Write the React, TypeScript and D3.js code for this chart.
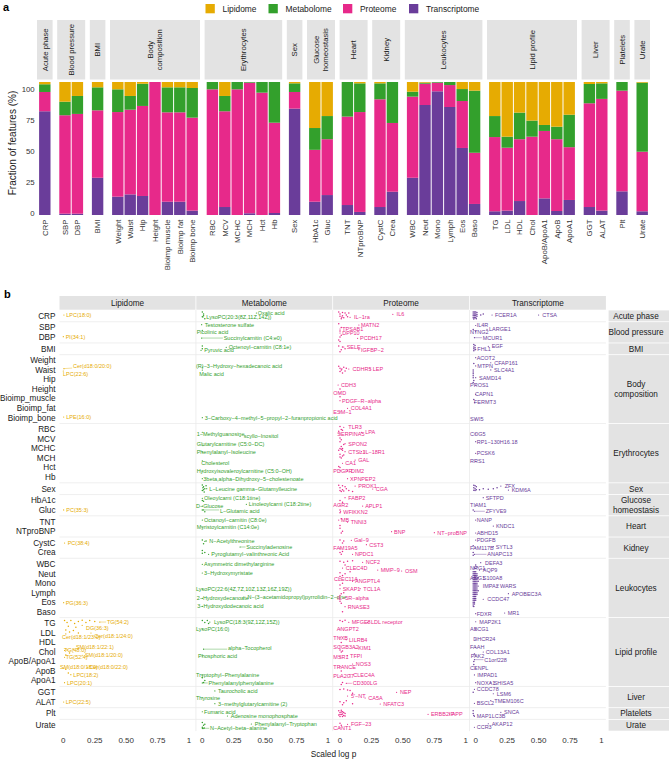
import React from "react";
import * as d3 from "d3";

const FONT = "'Liberation Sans', Arial, Helvetica, sans-serif";

// ---------- shared categories ----------
const omics = ["Lipidome", "Metabolome", "Proteome", "Transcriptome"];
const omicColors = ["#E6AB02", "#33A02C", "#E7298A", "#6A3D9A"];

const groupNames = [
  "Acute phase", "Blood pressure", "BMI", "Body\ncomposition", "Erythrocytes", "Sex",
  "Glucose\nhomeostasis", "Heart", "Kidney", "Leukocytes", "Lipid profile", "Liver", "Platelets", "Urate",
];
const groupTraits = [
  ["CRP"], ["SBP", "DBP"], ["BMI"],
  ["Weight", "Waist", "Hip", "Height", "Bioimp_muscle", "Bioimp_fat", "Bioimp_bone"],
  ["RBC", "MCV", "MCHC", "MCH", "Hct", "Hb"], ["Sex"], ["HbA1c", "Gluc"], ["TNT", "NTproBNP"],
  ["CystC", "Crea"], ["WBC", "Neut", "Mono", "Lymph", "Eos", "Baso"],
  ["TG", "LDL", "HDL", "Chol", "ApoB/ApoA1", "ApoB", "ApoA1"], ["GGT", "ALAT"], ["Plt"], ["Urate"],
];

// ---------- panel a: fraction of features (%) per trait ----------
const transcriptomeShare = [78, 1, 1, 28, 13.8, 15.5, 14.3, 0, 10, 10, 3.3, 0, 6, 0, 1.3, 0, 1.5, 80, 10, 15, 7.5, 2.3, 6, 17.5, 28, 82.7, 93, 81.2, 50.4, 8.3, 2.8, 3.3, 10.5, 0, 12.5, 3, 11.3, 6, 3.3, 17.8, 2.8];
const proteomeShare = [14.5, 74, 75, 50.7, 63.6, 63.7, 67.7, 100, 67.2, 67.2, 69.9, 94.5, 72, 94.5, 98.2, 92, 67.9, 12.5, 39, 42, 66.5, 75.1, 81, 51.7, 61, 16, 6.5, 16.5, 35.3, 38.5, 55.8, 47.3, 46.5, 58.9, 50.7, 54, 39.7, 78, 84, 75.7, 44.8];
const metabolomeShare = [5.8, 10.2, 13.5, 17.3, 17.1, 10.3, 16.7, 0, 18.8, 18.8, 22.3, 5.5, 11.5, 5.5, 0.5, 8, 30.6, 6.5, 16.4, 17.4, 26, 21.6, 12, 30.8, 3.7, 0.8, 0.5, 2.3, 9, 46.7, 15.8, 8.3, 20, 12.1, 4.5, 9.4, 24.4, 14.5, 11.7, 6.5, 51.9];
const lipidomeShare = [1.7, 14.8, 10.5, 4, 5.5, 10.5, 1.3, 0, 4, 4, 4.5, 0, 10.5, 0, 0, 0, 0, 1, 34.6, 25.6, 0, 1, 1, 0, 7.3, 0.5, 0, 0, 5.3, 6.5, 25.6, 41.1, 23, 29, 32.3, 33.6, 24.6, 1.5, 1, 0, 0.5];
const yTicksA = [0, 25, 50, 75, 100];

// ---------- panel b: labelled features [trait, name, pointValue, pointDy, labelValue, labelDy] ----------
type Lab = [string, string, number, number, number, number];
type Pt = [string, number, number];

const lipidomeLabels: Lab[] = [
  ["CRP", "LPC(18:0)", 0.005, -0.09, 0.024, -0.09],
  ["DBP", "PI(34:1)", 0.0, -0.04, 0.019, -0.04],
  ["Waist", "Cer(d18:0/20:0)", 0.005, -0.15, 0.077, -0.43],
  ["Waist", "LPC(22:6)", 0.0, 0.1, -0.002, 0.38],
  ["Bioimp_bone", "LPE(16:0)", 0.003, -0.07, 0.024, -0.07],
  ["Gluc", "PC(35:3)", 0.003, 0.0, 0.024, 0.0],
  ["CystC", "PC(38:4)", 0.01, 0.01, 0.035, 0.01],
  ["Eos", "PG(36:3)", 0.003, 0.05, 0.019, 0.05],
  ["TG", "TG(54:2)", 0.29, -0.15, 0.347, -0.15],
  ["TG", "DG(36:3)", 0.15, 0.2, 0.18, 0.5],
  ["LDL", "Cer(d18:1/23:0)", 0.02, 0.1, -0.01, 0.45],
  ["LDL", "Cer(d18:1/24:0)", 0.22, 0.0, 0.246, 0.32],
  ["Chol", "SM(d18:1/22:1)", 0.08, -0.3, 0.1, -0.5],
  ["Chol", "TG(48:0)", 0.01, -0.16, 0.006, -0.16],
  ["Chol", "SM(d18:1/20:0)", 0.15, 0.34, 0.172, 0.34],
  ["Chol", "TG(52:4)", 0.01, 0.55, 0.019, 0.55],
  ["ApoB", "SM(d18:0/18:0)", 0.0, -0.3, -0.026, -0.46],
  ["ApoB", "Cer(d18:0/22:0)", 0.19, -0.39, 0.207, -0.39],
  ["ApoB", "LPC(18:2)", 0.06, 0.38, 0.08, 0.38],
  ["ApoA1", "LPC(20:1)", 0.01, 0.22, 0.03, 0.22],
  ["ALAT", "LPC(22:5)", 0.003, 0.02, 0.019, 0.02],
];
const metabolomeLabels: Lab[] = [
  ["CRP", "Oxalic acid", 0.43, -0.3, 0.44, -0.33],
  ["CRP", "LysoPC(20:3(8Z,11Z,14Z))", 0.005, 0.12, 0.032, 0.12],
  ["SBP", "Testosterone sulfate", -0.005, -0.3, 0.02, -0.3],
  ["SBP", "Picolinic acid", 0.0, 0.3, -0.045, 0.5],
  ["DBP", "Succinylcarnitin (C4:e0)", -0.005, 0.1, 0.17, 0.1],
  ["BMI", "Pyruvic acid", -0.01, 0.16, 0.015, 0.16],
  ["BMI", "Octenoyl−carnitin (C8:1e)", 0.19, -0.16, 0.21, -0.16],
  ["Waist", "(R)−3−Hydroxy−hexadecanoic acid", 0.0, -0.3, -0.05, -0.43],
  ["Waist", "Malic acid", 0.0, 0.0, -0.024, 0.38],
  ["Bioimp_bone", "3−Carboxy−4−methyl−5−propyl−2−furanpropionic acid", 0.0, 0.0, 0.02, 0.0],
  ["RBC", "1−Methylguanosine", 0.0, 0.3, -0.045, 0.48],
  ["MCV", "scyllo−Inositol", 0.3, -0.27, 0.33, -0.27],
  ["MCHC", "Glutarylcarnitine (C5:0−DC)", 0.005, -0.3, -0.045, -0.46],
  ["MCHC", "Phenylalanyl−Isoleucine", 0.0, 0.38, -0.045, 0.38],
  ["MCH", "Cholesterol", 0.0, 0.3, -0.008, 0.5],
  ["Hct", "Hydroxyisovaleroylcarnitine (C5:0−OH)", 0.0, 0.37, -0.045, 0.37],
  ["Hb", "3beta,alpha−Dihydroxy−5−cholestenoate", 0.0, 0.18, 0.008, 0.18],
  ["Sex", "L−Leucine gamma−Glutamylleucine", 0.035, 0.0, 0.056, 0.0],
  ["HbA1c", "Oleoylcarni (C18:1tine)", 0.0, -0.22, 0.014, -0.22],
  ["HbA1c", "Linoleoylcarni (C18:2tine)", 0.35, 0.41, 0.37, 0.41],
  ["Gluc", "D−Glucose", 0.0, -0.41, -0.05, -0.41],
  ["Gluc", "L−Glutamic acid", 0.01, 0.0, 0.14, 0.14],
  ["TNT", "Octanoyl−carnitin (C8:0e)", 0.0, -0.17, 0.014, -0.17],
  ["NTproBNP", "Myristoylcarnitin (C14:0e)", 0.0, -0.44, -0.045, -0.44],
  ["CystC", "N−Acetylthreonine", 0.02, -0.17, 0.056, -0.17],
  ["CystC", "Succinyladenosine", 0.3, 0.43, 0.35, 0.43],
  ["Crea", "Pyroglutamyl−valinthreonic Acid", 0.05, 0.2, 0.072, 0.2],
  ["WBC", "Asymmetric dimethylarginine", 0.0, 0.02, 0.014, 0.02],
  ["Neut", "3−Hydroxymyristate", 0.0, -0.07, 0.014, -0.07],
  ["Lymph", "LysoPC(22:6(4Z,7Z,10Z,13Z,16Z,19Z))", 0.0, -0.39, -0.05, -0.39],
  ["Eos", "2−Hydroxydecanoate", 0.0, -0.41, -0.045, -0.41],
  ["Lymph", "N−(3−acetamidopropyl)pyrrolidin−2−one", 0.33, 0.45, 0.36, 0.45],
  ["Eos", "3−Hydroxydodecanoic acid", 0.0, 0.43, -0.04, 0.43],
  ["TG", "LysoPC(18:3(9Z,12Z,15Z))", 0.06, -0.15, 0.093, -0.15],
  ["TG", "LysoPC(16:0)", 0.0, 0.58, -0.05, 0.58],
  ["Chol", "alpha−Tocopherol", 0.01, -0.3, 0.204, -0.42],
  ["Chol", "Phosphoric acid", 0.0, 0.42, -0.034, 0.42],
  ["ApoB", "Tryptophyl−Phenylalanine", 0.0, 0.41, -0.05, 0.41],
  ["ApoA1", "Phenylalanylphenylalanine", 0.0, 0.25, 0.05, 0.25],
  ["GGT", "Taurocholic acid", 0.1, -0.14, 0.125, -0.14],
  ["ALAT", "Thyrosine", 0.0, -0.43, -0.05, -0.43],
  ["ALAT", "3−methylglutarylcarnitine (2)", 0.1, 0.2, 0.125, 0.2],
  ["Plt", "Fumaric acid", 0.0, -0.19, 0.014, -0.19],
  ["Plt", "Adenosine monophosphate", 0.2, 0.26, 0.226, 0.26],
  ["Urate", "Phenylalanyl−Tryptophan", 0.39, -0.13, 0.417, -0.13],
  ["Urate", "N−Acetyl−beta−alanine", 0.0, 0.32, 0.061, 0.32],
];
const proteomeLabels: Lab[] = [
  ["CRP", "IL−1ra", 0.08, 0.15, 0.111, 0.15],
  ["CRP", "IL6", 0.42, -0.16, 0.45, -0.16],
  ["SBP", "TPSAB1", 0.0, 0.15, 0.018, 0.15],
  ["SBP", "MATN2", 0.15, -0.27, 0.167, -0.27],
  ["DBP", "DPP10", 0.0, -0.43, 0.018, -0.43],
  ["DBP", "PCDH17", 0.14, 0.13, 0.159, 0.13],
  ["BMI", "SELE", 0.03, -0.19, 0.053, -0.19],
  ["BMI", "IGFBP−2", 0.15, 0.09, 0.167, 0.09],
  ["Waist", "CDHR5", 0.07, -0.11, 0.1, -0.11],
  ["Waist", "LEP", 0.24, -0.11, 0.26, -0.11],
  ["Height", "CDH3", -0.015, -0.43, 0.008, -0.43],
  ["Height", "OMD", 0.0, 0.41, -0.053, 0.41],
  ["Bioimp_muscle", "PDGF−R−alpha", 0.0, 0.22, 0.016, 0.22],
  ["Bioimp_fat", "ESM−1", 0.0, 0.37, -0.053, 0.37],
  ["Bioimp_fat", "COL4A1", 0.06, 0.02, 0.085, 0.02],
  ["RBC", "TLR3", 0.03, -0.22, 0.066, -0.22],
  ["RBC", "SERPINA5", 0.0, 0.45, -0.021, 0.45],
  ["RBC", "LPA", 0.17, 0.31, 0.2, 0.31],
  ["MCHC", "SPON2", 0.04, -0.5, 0.066, -0.5],
  ["MCHC", "CTSL1", 0.04, 0.34, 0.066, 0.34],
  ["MCHC", "IL−18R1", 0.17, 0.34, 0.19, 0.34],
  ["MCH", "GAL", 0.12, 0.22, 0.145, 0.22],
  ["Hct", "CA1", 0.02, -0.44, 0.042, -0.44],
  ["Hct", "PDGFR", 0.0, 0.34, -0.053, 0.34],
  ["Hct", "DIM2", 0.06, 0.34, 0.087, 0.34],
  ["Hb", "XPNPEP2", 0.06, 0.18, 0.08, 0.18],
  ["Sex", "PROK1", 0.12, -0.28, 0.145, -0.28],
  ["Sex", "CGA", 0.26, 0.03, 0.284, 0.03],
  ["HbA1c", "FABP2", 0.04, -0.29, 0.066, -0.29],
  ["HbA1c", "AGR2", 0.0, 0.48, -0.053, 0.48],
  ["Gluc", "APLP1", 0.18, -0.41, 0.2, -0.41],
  ["Gluc", "WFIKKN2", 0.005, 0.18, 0.026, 0.18],
  ["TNT", "MB", -0.01, -0.17, 0.008, -0.17],
  ["TNT", "TNNI3", 0.06, 0.04, 0.085, 0.04],
  ["NTproBNP", "BNP", 0.41, 0.05, 0.43, 0.05],
  ["NTproBNP", "NT−proBNP", 0.75, 0.16, 0.773, 0.16],
  ["CystC", "Gal−9", 0.09, -0.27, 0.111, -0.27],
  ["CystC", "CST3", 0.21, 0.19, 0.233, 0.19],
  ["Crea", "FAM19A5", 0.0, -0.46, -0.053, -0.46],
  ["Crea", "NPDC1", 0.1, 0.2, 0.119, 0.2],
  ["WBC", "NCF2", 0.18, -0.19, 0.204, -0.19],
  ["WBC", "CLEC4D", 0.02, 0.41, 0.045, 0.41],
  ["Neut", "MMP−9", 0.3, -0.38, 0.324, -0.38],
  ["Neut", "OSM", 0.49, -0.28, 0.517, -0.28],
  ["Mono", "CLEC11A", 0.0, -0.47, -0.048, -0.47],
  ["Mono", "ANGPTL4", 0.1, -0.2, 0.119, -0.2],
  ["Lymph", "SKAP1", 0.0, -0.42, 0.021, -0.42],
  ["Lymph", "TCL1A", 0.16, -0.42, 0.185, -0.42],
  ["Eos", "IL−5R−alpha", 0.0, -0.44, -0.021, -0.44],
  ["Eos", "RNASE3", 0.04, 0.47, 0.061, 0.47],
  ["TG", "MFGE8", 0.07, -0.12, 0.093, -0.12],
  ["TG", "LDL receptor", 0.22, -0.12, 0.246, -0.12],
  ["LDL", "ANGPT2", 0.0, -0.42, -0.026, -0.42],
  ["LDL", "TNXB", 0.0, 0.49, -0.053, 0.49],
  ["HDL", "LILRB4", 0.05, -0.29, 0.072, -0.29],
  ["HDL", "SCGB3A2", 0.0, 0.47, -0.053, 0.47],
  ["Chol", "KIM1", 0.12, -0.39, 0.145, -0.39],
  ["Chol", "MSR1", 0.0, 0.49, -0.053, 0.49],
  ["Chol", "TFPI", 0.06, 0.38, 0.08, 0.38],
  ["ApoB", "TRANCE", 0.0, -0.46, -0.053, -0.46],
  ["ApoB/ApoA1", "NOS3", 0.1, 0.26, 0.125, 0.26],
  ["ApoB", "PLA2G7", 0.0, 0.52, -0.053, 0.52],
  ["ApoB", "CLEC4A", 0.08, 0.41, 0.106, 0.41],
  ["ApoA1", "CD300LG", 0.05, 0.29, 0.101, 0.29],
  ["GGT", "NEP", 0.45, 0.0, 0.477, 0.0],
  ["GGT", "5'−NT", 0.06, 0.39, 0.087, 0.39],
  ["ALAT", "CA5A", 0.2, -0.4, 0.225, -0.4],
  ["ALAT", "NFATC3", 0.32, 0.23, 0.344, 0.23],
  ["Plt", "ERBB2IP", 0.7, 0.08, 0.723, 0.08],
  ["Plt", "APP", 0.87, 0.05, 0.888, 0.05],
  ["Urate", "CANT1", 0.0, 0.26, -0.053, 0.26],
  ["Urate", "FGF−23", 0.06, -0.1, 0.087, -0.1],
];
const transcriptomeLabels: Lab[] = [
  ["CRP", "FCER1A", 0.13, -0.09, 0.153, -0.09],
  ["CRP", "CTSA", 0.5, -0.09, 0.53, -0.09],
  ["SBP", "IL4R", 0.0, -0.22, 0.008, -0.22],
  ["SBP", "NTNG2", 0.0, 0.43, -0.045, 0.43],
  ["SBP", "LARGE1", 0.09, 0.18, 0.106, 0.18],
  ["DBP", "MCUR1", -0.01, 0.06, 0.056, 0.06],
  ["BMI", "FHL1", 0.0, 0.05, 0.013, 0.05],
  ["BMI", "EGF", 0.1, -0.26, 0.127, -0.26],
  ["Weight", "ACOT2", 0.0, -0.3, 0.008, -0.3],
  ["Waist", "MTPN", 0.0, -0.43, 0.013, -0.43],
  ["Weight", "CFAP161", 0.12, 0.23, 0.148, 0.23],
  ["Waist", "SLC4A1", 0.12, -0.01, 0.145, -0.01],
  ["Hip", "SAMD14", 0.0, -0.2, 0.026, -0.2],
  ["Height", "PROS1", 0.0, -0.43, -0.045, -0.43],
  ["Bioimp_muscle", "CAPN1", 0.0, -0.45, -0.006, -0.45],
  ["Bioimp_muscle", "FERMT3", -0.01, 0.39, -0.014, 0.39],
  ["Bioimp_bone", "SWI5", 0.0, 0.14, -0.045, 0.14],
  ["RBC", "COG5", 0.0, 0.48, -0.045, 0.48],
  ["MCV", "RP1−130H16.18", 0.0, 0.29, 0.008, 0.29],
  ["MCHC", "PCSK6", 0.0, 0.51, 0.008, 0.51],
  ["MCH", "RRS1", 0.0, 0.35, -0.045, 0.35],
  ["Sex", "ZFX", 0.2, -0.28, 0.23, -0.28],
  ["Sex", "KDM6A", 0.26, 0.14, 0.286, 0.14],
  ["HbA1c", "SFTPD", 0.06, -0.29, 0.079, -0.29],
  ["HbA1c", "TIAM1", 0.0, 0.48, -0.045, 0.48],
  ["Gluc", "ZFYVE9", -0.01, 0.14, 0.079, 0.14],
  ["TNT", "NANP", 0.0, -0.17, 0.008, -0.17],
  ["TNT", "KNDC1", 0.14, 0.46, 0.161, 0.46],
  ["NTproBNP", "ABHD15", 0.0, 0.19, 0.008, 0.19],
  ["CystC", "PDGFB", 0.0, -0.3, 0.008, -0.3],
  ["Crea", "FAM117B", 0.0, -0.49, -0.045, -0.49],
  ["Crea", "SYTL3", 0.14, -0.6, 0.159, -0.6],
  ["Crea", "ANAPC13", -0.01, 0.2, 0.092, 0.2],
  ["WBC", "DEFA3", 0.04, -0.15, 0.074, -0.15],
  ["Neut", "NRG1", 0.0, -0.56, -0.045, -0.56],
  ["Neut", "AQP9", 0.03, -0.38, 0.056, -0.38],
  ["Neut", "ARG1", 0.0, 0.42, -0.045, 0.42],
  ["Neut", "S100A8", 0.02, 0.42, 0.056, 0.42],
  ["Mono", "IMPA2", 0.02, 0.3, 0.056, 0.3],
  ["Mono", "WARS", 0.17, 0.26, 0.193, 0.26],
  ["Lymph", "APOBEC3A", 0.26, 0.1, 0.286, 0.1],
  ["Eos", "CCDC47", 0.06, -0.31, 0.092, -0.31],
  ["Baso", "FDXR", 0.0, 0.2, 0.008, 0.2],
  ["Baso", "MR1", 0.23, 0.13, 0.254, 0.13],
  ["TG", "MAP2K1", 0.0, -0.18, 0.029, -0.18],
  ["LDL", "ABCG1", 0.0, -0.39, -0.045, -0.39],
  ["HDL", "DHCR24", 0.0, -0.37, -0.019, -0.37],
  ["Chol", "FAAH", 0.0, -0.5, -0.045, -0.5],
  ["Chol", "COL13A1", 0.06, 0.0, 0.079, 0.0],
  ["Chol", "PAK2", 0.0, 0.39, -0.04, 0.39],
  ["ApoB/ApoA1", "C1orf228", -0.01, -0.2, 0.068, -0.2],
  ["ApoB", "CENPL", 0.0, -0.35, -0.045, -0.35],
  ["ApoB", "IMPAD1", -0.01, 0.41, 0.013, 0.41],
  ["ApoA1", "NOXA1", 0.0, 0.22, 0.008, 0.22],
  ["ApoA1", "SHISA5", 0.12, 0.22, 0.143, 0.22],
  ["GGT", "CCDC78", -0.01, -0.31, 0.008, -0.31],
  ["GGT", "LSM6", 0.14, 0.15, 0.167, 0.15],
  ["ALAT", "BSCL2", -0.01, 0.16, 0.008, 0.16],
  ["ALAT", "TMEM106C", 0.12, -0.12, 0.148, -0.12],
  ["Plt", "MAP1LC3B", -0.01, 0.29, 0.008, 0.29],
  ["Plt", "SNCA", 0.2, -0.13, 0.225, -0.13],
  ["Urate", "AKAP12", 0.1, -0.16, 0.127, -0.16],
  ["Urate", "CCR3", -0.01, 0.21, 0.008, 0.21],
];

// unlabelled features [trait, value, dy]
const lipidomePoints: Pt[] = [
  ["TG", 0.01, -0.3], ["TG", 0.03, -0.1], ["TG", 0.06, -0.3], ["TG", 0.09, 0.0], ["TG", 0.12, -0.2], ["TG", 0.15, -0.35],
  ["TG", 0.18, -0.1], ["TG", 0.21, -0.3], ["TG", 0.25, -0.2], ["TG", 0.04, 0.3], ["TG", 0.1, 0.4],
  ["LDL", 0.02, -0.3], ["LDL", 0.05, -0.1], ["LDL", 0.08, -0.25], ["LDL", 0.12, 0.0],
  ["Chol", 0.03, -0.2], ["Chol", 0.05, 0.1], ["Chol", 0.02, 0.3], ["ApoB", 0.02, -0.2], ["ApoB", 0.04, 0.2],
];
const metabolomePoints: Pt[] = [
  ["CRP", 0.0, -0.4], ["CRP", 0.01, -0.2], ["CRP", 0.0, 0.1], ["CRP", 0.02, 0.3], ["CRP", 0.01, 0.0],
  ["BMI", 0.0, -0.3], ["BMI", 0.0, 0.0],
  ["Sex", 0.0, -0.4], ["Sex", 0.01, -0.2], ["Sex", 0.02, 0.0], ["Sex", 0.0, 0.2], ["Sex", 0.03, -0.3], ["Sex", 0.015, 0.35], ["Sex", 0.005, -0.1], ["Sex", 0.01, 0.1],
  ["HbA1c", 0.0, 0.0], ["HbA1c", 0.01, 0.1], ["Gluc", 0.0, 0.0], ["Gluc", 0.02, 0.2],
  ["CystC", 0.0, -0.3], ["CystC", 0.01, 0.1], ["CystC", 0.03, -0.2], ["Crea", 0.0, 0.1], ["Crea", 0.02, 0.0], ["Crea", 0.0, -0.2],
  ["TG", 0.0, -0.3], ["TG", 0.02, -0.1], ["TG", 0.04, -0.3], ["TG", 0.05, 0.0],
  ["ApoA1", 0.0, -0.3], ["ApoA1", 0.02, 0.0], ["ApoA1", 0.01, 0.2],
  ["Urate", 0.0, -0.3], ["Urate", 0.01, 0.0], ["Urate", 0.0, 0.2], ["Urate", 0.02, -0.1], ["Urate", 0.005, 0.35], ["Urate", 0.015, 0.3],
];
const proteomePoints: Pt[] = [
  ["CRP", -0.01, -0.4], ["CRP", 0.0, -0.2], ["CRP", 0.02, 0.0], ["CRP", 0.04, -0.3], ["CRP", 0.06, 0.1], ["CRP", 0.01, 0.3],
  ["CRP", 0.03, 0.2], ["CRP", 0.05, -0.1], ["CRP", 0.0, 0.05], ["CRP", 0.02, -0.35], ["CRP", 0.07, -0.3], ["CRP", 0.015, 0.15],
  ["SBP", -0.01, -0.4], ["SBP", 0.0, 0.35], ["SBP", 0.01, 0.0], ["DBP", -0.01, 0.3], ["DBP", 0.0, 0.0], ["DBP", 0.01, -0.2], ["DBP", 0.0, 0.45],
  ["BMI", -0.01, -0.3], ["BMI", 0.01, 0.1], ["BMI", 0.02, -0.2], ["BMI", 0.0, 0.3], ["BMI", 0.04, 0.0],
  ["Waist", -0.01, -0.4], ["Waist", 0.0, -0.2], ["Waist", 0.01, 0.0], ["Waist", 0.03, -0.3], ["Waist", 0.04, 0.1], ["Waist", 0.02, 0.3],
  ["Waist", 0.0, 0.15], ["Waist", 0.05, -0.2], ["Waist", 0.015, -0.1], ["Height", 0.0, 0.0], ["Bioimp_muscle", 0.0, -0.2],
  ["RBC", 0.0, -0.3], ["RBC", 0.01, 0.0], ["RBC", 0.02, 0.1], ["RBC", -0.01, 0.2], ["MCV", 0.0, 0.3], ["MCV", 0.0, -0.1], ["MCV", 0.01, 0.1],
  ["MCHC", 0.01, -0.2], ["MCHC", 0.02, 0.0], ["MCHC", -0.01, 0.2], ["MCHC", 0.03, -0.4], ["MCHC", 0.0, 0.0], ["MCHC", 0.02, 0.2], ["MCHC", 0.01, 0.1],
  ["MCH", 0.0, -0.4], ["MCH", 0.02, -0.2], ["MCH", 0.01, 0.0], ["MCH", 0.0, -0.1], ["MCH", 0.03, -0.3], ["Hct", 0.0, 0.0], ["Hct", -0.01, -0.1],
  ["Sex", -0.01, -0.35], ["Sex", 0.0, -0.1], ["Sex", 0.02, 0.1], ["Sex", 0.04, -0.2], ["Sex", 0.01, 0.3], ["Sex", 0.03, 0.25],
  ["Sex", 0.05, 0.0], ["Sex", 0.0, 0.2], ["Sex", 0.02, -0.3], ["Sex", 0.07, 0.2], ["Sex", 0.1, 0.3],
  ["HbA1c", 0.0, 0.0], ["HbA1c", 0.02, 0.2], ["Gluc", 0.0, 0.0], ["Gluc", 0.0, 0.3],
  ["TNT", 0.0, 0.4], ["TNT", 0.01, -0.3], ["NTproBNP", 0.0, -0.3], ["NTproBNP", 0.01, 0.2], ["NTproBNP", 0.02, 0.0],
  ["CystC", 0.0, -0.3], ["CystC", 0.02, 0.0], ["CystC", 0.03, -0.2], ["Crea", 0.01, 0.2], ["Crea", 0.0, 0.0], ["Crea", 0.02, -0.1],
  ["WBC", 0.0, -0.3], ["WBC", 0.03, -0.2], ["WBC", 0.06, -0.3], ["WBC", 0.1, -0.35], ["WBC", 0.04, 0.1],
  ["Neut", 0.0, -0.1], ["Neut", 0.02, 0.2], ["Neut", 0.08, -0.2], ["Neut", 0.0, 0.3], ["Neut", 0.04, 0.0],
  ["Mono", 0.0, 0.2], ["Mono", 0.02, 0.0], ["Lymph", 0.01, 0.1], ["Lymph", 0.0, 0.3], ["Lymph", 0.03, 0.0],
  ["Eos", 0.0, -0.1], ["Eos", 0.01, 0.1], ["Baso", 0.02, 0.0],
  ["TG", 0.0, -0.3], ["TG", 0.02, -0.2], ["TG", 0.04, -0.35], ["HDL", 0.01, 0.0], ["Chol", 0.0, -0.2], ["Chol", 0.02, -0.1], ["Chol", 0.01, 0.0],
  ["ApoB", 0.01, 0.0], ["ApoA1", 0.02, 0.2], ["ApoA1", 0.01, 0.4],
  ["GGT", 0.0, -0.3], ["GGT", 0.03, -0.35], ["GGT", 0.06, -0.25], ["GGT", 0.1, 0.1], ["GGT", 0.08, -0.2],
  ["ALAT", 0.0, 0.0], ["ALAT", 0.02, 0.3], ["ALAT", 0.05, -0.1], ["ALAT", 0.1, 0.2], ["ALAT", 0.03, 0.1],
  ["Plt", -0.01, -0.3], ["Plt", 0.0, -0.1], ["Plt", 0.01, 0.1], ["Plt", 0.02, -0.2], ["Plt", 0.03, 0.2], ["Plt", 0.0, 0.3], ["Plt", 0.04, 0.0],
  ["Plt", 0.01, -0.35], ["Plt", 0.02, 0.3], ["Plt", 0.0, 0.1], ["Plt", 0.01, -0.15], ["Plt", 0.03, -0.1], ["Plt", 0.02, 0.05], ["Plt", -0.01, 0.15], ["Plt", 0.04, 0.25],
  ["Urate", 0.0, -0.2], ["Urate", 0.01, 0.0],
];
const transcriptomePoints: Pt[] = [
  ["CRP", -0.02, -0.4], ["CRP", -0.01, -0.4], ["CRP", 0.0, -0.4], ["CRP", 0.01, -0.35], ["CRP", -0.02, -0.2], ["CRP", -0.01, -0.2], ["CRP", 0.0, -0.2],
  ["CRP", 0.01, -0.15], ["CRP", -0.02, 0.0], ["CRP", -0.01, 0.0], ["CRP", 0.0, 0.0], ["CRP", 0.01, 0.05], ["CRP", -0.02, 0.2], ["CRP", -0.01, 0.2],
  ["CRP", 0.0, 0.2], ["CRP", -0.015, 0.32], ["CRP", 0.005, 0.3], ["CRP", 0.04, -0.1], ["CRP", 0.06, -0.2],
  ["SBP", -0.02, 0.2], ["BMI", -0.015, -0.45], ["BMI", -0.015, -0.2], ["BMI", -0.015, 0.0], ["BMI", -0.015, 0.2], ["BMI", -0.005, -0.35], ["BMI", -0.005, -0.1], ["BMI", -0.005, 0.1],
  ["Weight", -0.015, 0.3], ["Waist", -0.02, 0.0], ["Waist", -0.02, 0.2], ["Waist", -0.02, 0.4], ["Hip", -0.02, -0.4], ["Hip", -0.02, -0.2], ["Hip", -0.015, 0.1], ["Hip", -0.02, 0.3], ["Bioimp_muscle", -0.015, 0.1],
  ["Sex", -0.015, -0.35], ["Sex", -0.015, -0.1], ["Sex", -0.015, 0.15], ["Sex", -0.005, -0.3], ["Sex", -0.005, 0.0], ["Sex", -0.005, 0.2], ["Sex", 0.005, -0.2], ["Sex", 0.005, 0.1],
  ["Sex", 0.03, 0.1], ["Sex", 0.06, 0.0], ["Sex", 0.1, 0.05], ["Sex", 0.14, 0.0], ["Sex", 0.17, -0.1],
  ["Gluc", -0.02, 0.0], ["CystC", -0.02, 0.3], ["Crea", -0.02, 0.0], ["Crea", -0.02, 0.3],
  ["WBC", 0.01, 0.3], ["WBC", 0.0, 0.1], ["WBC", -0.01, 0.4],
  ["Neut", -0.02, -0.2], ["Neut", -0.01, -0.2], ["Neut", 0.0, -0.2], ["Neut", -0.02, 0.0], ["Neut", -0.01, 0.0], ["Neut", 0.0, 0.0], ["Neut", 0.01, 0.0],
  ["Neut", -0.02, 0.2], ["Neut", -0.01, 0.2], ["Neut", 0.0, 0.2], ["Neut", 0.01, 0.2], ["Neut", -0.02, 0.4], ["Neut", -0.01, 0.4], ["Neut", 0.0, 0.4], ["Neut", 0.015, 0.45],
  ["Mono", -0.02, -0.4], ["Mono", -0.01, -0.4], ["Mono", 0.0, -0.4], ["Mono", 0.01, -0.4], ["Mono", -0.02, -0.2], ["Mono", -0.01, -0.2], ["Mono", 0.0, -0.2],
  ["Mono", 0.01, -0.2], ["Mono", 0.02, -0.2], ["Mono", -0.02, 0.0], ["Mono", -0.01, 0.0], ["Mono", 0.0, 0.0], ["Mono", 0.01, 0.0], ["Mono", -0.02, 0.2],
  ["Mono", -0.01, 0.2], ["Mono", 0.0, 0.2], ["Mono", 0.01, 0.2], ["Mono", -0.02, 0.4], ["Mono", -0.01, 0.4], ["Mono", 0.0, 0.4], ["Mono", 0.01, 0.4],
  ["Lymph", -0.02, -0.4], ["Lymph", -0.01, -0.4], ["Lymph", 0.0, -0.4], ["Lymph", 0.01, -0.4], ["Lymph", -0.02, -0.2], ["Lymph", -0.01, -0.2], ["Lymph", 0.0, -0.2],
  ["Lymph", 0.01, -0.2], ["Lymph", 0.02, -0.2], ["Lymph", -0.02, 0.0], ["Lymph", -0.01, 0.0], ["Lymph", 0.0, 0.0], ["Lymph", 0.01, 0.0], ["Lymph", -0.02, 0.2],
  ["Lymph", -0.01, 0.2], ["Lymph", 0.0, 0.2], ["Lymph", 0.01, 0.2], ["Lymph", -0.02, 0.4], ["Lymph", -0.01, 0.4], ["Lymph", 0.0, 0.4],
  ["Eos", -0.02, -0.4], ["Eos", -0.01, -0.4], ["Eos", 0.0, -0.4], ["Eos", -0.02, -0.2], ["Eos", -0.01, -0.2], ["Eos", 0.0, -0.2], ["Eos", -0.02, 0.0],
  ["Eos", -0.01, 0.0], ["Eos", -0.02, 0.2], ["Eos", -0.01, 0.2], ["Eos", -0.02, 0.4], ["Eos", -0.015, 0.45],
  ["Chol", -0.01, 0.2], ["ApoB/ApoA1", -0.015, 0.3], ["ApoB/ApoA1", -0.015, 0.0], ["GGT", -0.02, 0.0], ["Plt", -0.02, -0.3], ["Plt", -0.02, 0.0], ["Plt", -0.015, 0.2],
];

const xTicksB = [0, 0.25, 0.5, 0.75, 1];
const xTickLabelsB = ["0", "0.25", "0.50", "0.75", "1"];

const labelsByOmic = [lipidomeLabels, metabolomeLabels, proteomeLabels, transcriptomeLabels];
const pointsByOmic = [lipidomePoints, metabolomePoints, proteomePoints, transcriptomePoints];

// ---------- layout constants ----------
const A = { x0: 37, pad: 1.6, gap: 4.6, step: 12.4, stripTop: 20, stripBottom: 79.5, barBottom: 215, barTop: 82 };
const B = { top: 310, rowH: 9.52, pad: 1.1, stripTop: 296, stripH: 13.7, zeros: [63.3, 202.3, 340, 475.7], unit: 125.8, lefts: [59.5, 196.3, 333.1, 469.9], width: 136, rightStrip: 608.6 };

function Multiline({ text, x, y, size, rotate, lh }: { text: string; x: number; y: number; size: number; rotate?: boolean; lh: number }) {
  const lines = text.split("\n");
  const off = -((lines.length - 1) * lh) / 2;
  return (
    <text transform={`translate(${x},${y})${rotate ? " rotate(-90)" : ""}`} textAnchor="middle" fontSize={size} fill="#1a1a1a">
      {lines.map((l, i) => (
        <tspan key={i} x={0} y={off + i * lh} dy="0.35em">{l}</tspan>
      ))}
    </text>
  );
}

export default function App() {
  // ---- panel a layout ----
  let cursor = A.x0;
  const panelsA = groupTraits.map((tr) => {
    const w = tr.length * A.step + 2 * A.pad;
    const left = cursor;
    cursor += w + A.gap;
    const band = d3.scaleBand<string>().domain(tr).range([left + A.pad, left + w - A.pad]).paddingInner(0.08).paddingOuter(0.04);
    return { left, w, band };
  });
  const traitsAll = groupTraits.flat();
  const rows = traitsAll.map((t, i) => ({
    trait: t,
    Transcriptome: transcriptomeShare[i],
    Proteome: proteomeShare[i],
    Metabolome: metabolomeShare[i],
    Lipidome: lipidomeShare[i],
  }));
  const stackKeys = ["Transcriptome", "Proteome", "Metabolome", "Lipidome"];
  const series = d3.stack<any>().keys(stackKeys)(rows);
  const barY = d3.scaleLinear().domain([0, 100]).range([A.barBottom, A.barTop]);
  const tickY = d3.scaleLinear().domain([0, 100]).range([213.5, 89.3]);
  const bandOf = (t: string) => {
    const gi = groupTraits.findIndex((g) => g.includes(t));
    return panelsA[gi].band;
  };

  // ---- panel b layout ----
  let ycur = B.top;
  const panelsB = groupTraits.map((tr) => {
    const h = tr.length * B.rowH + 2 * B.pad;
    const top = ycur;
    ycur += h;
    const band = d3.scaleBand<string>().domain(tr).range([top + B.pad, top + h - B.pad]);
    return { top, h, band };
  });
  const bBottom = ycur;
  const rowCenter = (t: string) => {
    const gi = groupTraits.findIndex((g) => g.includes(t));
    const b = panelsB[gi].band;
    return (b(t) as number) + b.bandwidth() / 2;
  };
  const xScales = B.zeros.map((z) => d3.scaleLinear().domain([0, 1]).range([z, z + B.unit]));
  const LFS = 5.5;

  return (
    <svg width={669} height={759} style={{ position: "absolute", left: 0, top: 0, background: "#fff" }} fontFamily={FONT}>
      <rect x={0} y={0} width={669} height={759} fill="#fff" />
      {/* ======== panel a ======== */}
      <text x={3} y={11} fontSize={11} fontWeight="bold" fill="#000">a</text>
      {/* legend */}
      {omics.map((o, i) => {
        const kx = [205.5, 268.5, 343, 409][i];
        return (
          <g key={o}>
            <rect x={kx} y={4} width={9.3} height={9.3} fill={omicColors[i]} />
            <text x={kx + 17} y={8.7} dy="0.35em" fontSize={8.4} fill="#1a1a1a">{o}</text>
          </g>
        );
      })}
      {/* strips */}
      {panelsA.map((p, gi) => (
        <g key={gi}>
          <rect x={p.left} y={A.stripTop} width={p.w} height={A.stripBottom - A.stripTop} fill="#e3e3e3" />
          <Multiline text={groupNames[gi]} x={p.left + p.w / 2} y={(A.stripTop + A.stripBottom) / 2} size={7.7} rotate lh={8.6} />
        </g>
      ))}
      {/* bars */}
      {series.map((s) => {
        const ci = omics.indexOf(s.key);
        return (
          <g key={s.key} fill={omicColors[ci]}>
            {s.map((d: any, i: number) => {
              const t = traitsAll[i];
              const band = bandOf(t);
              const h = barY(d[0]) - barY(d[1]);
              if (h <= 0) return null;
              return <rect key={t} x={band(t)} y={barY(d[1])} width={band.bandwidth()} height={h} />;
            })}
          </g>
        );
      })}
      {/* y axis */}
      {yTicksA.map((v) => (
        <text key={v} x={34.7} y={tickY(v)} dy="0.35em" textAnchor="end" fontSize={7.8} fill="#333">{v}</text>
      ))}
      <text transform={`translate(12,143) rotate(-90)`} textAnchor="middle" dy="0.35em" fontSize={10} fill="#1a1a1a">Fraction of features (%)</text>
      {/* x labels */}
      {traitsAll.map((t) => {
        const band = bandOf(t);
        const cx = (band(t) as number) + band.bandwidth() / 2;
        return (
          <text key={t} transform={`translate(${cx},219.5) rotate(-90)`} textAnchor="end" dy="0.35em" fontSize={7.8} fill="#333">
            {t.replace("_", " ")}
          </text>
        );
      })}

      {/* ======== panel b ======== */}
      <text x={4} y={298} fontSize={11} fontWeight="bold" fill="#000">b</text>
      {/* column headers */}
      {omics.map((o, c) => (
        <g key={o}>
          <rect x={B.lefts[c]} y={B.stripTop} width={B.width} height={B.stripH} fill="#e3e3e3" />
          <text x={B.lefts[c] + B.width / 2} y={B.stripTop + B.stripH / 2} dy="0.35em" textAnchor="middle" fontSize={8.2} fill="#1a1a1a">{o}</text>
        </g>
      ))}
      {/* panel separators */}
      {panelsB.map((p, gi) => (
        <g key={gi}>
          {gi > 0 && <line x1={B.lefts[0]} x2={B.lefts[3] + B.width} y1={p.top} y2={p.top} stroke="#ebebeb" strokeWidth={0.8} />}
          <rect x={B.rightStrip} y={p.top + 0.4} width={669 - B.rightStrip} height={p.h - 0.8} fill="#e3e3e3" />
          <Multiline text={groupNames[gi]} x={B.rightStrip + 27.4} y={p.top + p.h / 2} size={8.2} lh={9.4} />
        </g>
      ))}
      {[1, 2, 3].map((c) => (
        <line key={c} x1={B.lefts[c] - 0.4} x2={B.lefts[c] - 0.4} y1={B.top} y2={bBottom} stroke="#ebebeb" strokeWidth={0.8} />
      ))}
      {/* row labels */}
      {traitsAll.map((t) => (
        <text key={t} x={55.5} y={rowCenter(t)} dy="0.35em" textAnchor="end" fontSize={8.2} fill="#1a1a1a">{t}</text>
      ))}
      {/* points, segments, labels */}
      {omics.map((o, c) => {
        const xs = xScales[c];
        const col = omicColors[c];
        return (
          <g key={o}>
            {pointsByOmic[c].map(([t, v, dy], i) => (
              <circle key={"p" + i} cx={xs(v)} cy={rowCenter(t) + dy * B.rowH} r={0.75} fill={col} />
            ))}
            {labelsByOmic[c].map(([t, name, p, pdy, lx, ldy], i) => {
              const px = xs(p);
              const py = rowCenter(t) + pdy * B.rowH;
              const tx = xs(lx);
              const ty = rowCenter(t) + ldy * B.rowH;
              const w = name.length * LFS * 0.5;
              const nx = Math.max(tx - 0.8, Math.min(px, tx + w));
              const ny = Math.max(ty - 2.1, Math.min(py, ty + 2.1));
              const dist = Math.hypot(nx - px, ny - py);
              return (
                <g key={"l" + i}>
                  <circle cx={px} cy={py} r={0.6} fill={col} />
                  {dist > 4.5 && <line x1={px} y1={py} x2={nx} y2={ny} stroke={col} strokeWidth={0.4} />}
                  <text x={tx} y={ty} dy="0.35em" fontSize={LFS} fill={col}>{name}</text>
                </g>
              );
            })}
          </g>
        );
      })}
      {/* x axes */}
      {omics.map((o, c) =>
        xTicksB.map((v, i) => (
          <text key={o + v} x={xScales[c](v)} y={740} dy="0.35em" textAnchor="middle" fontSize={8} fill="#333">{xTickLabelsB[i]}</text>
        ))
      )}
      <text x={333.5} y={754} dy="0.35em" textAnchor="middle" fontSize={8.3} fill="#1a1a1a">Scaled log p</text>
    </svg>
  );
}
